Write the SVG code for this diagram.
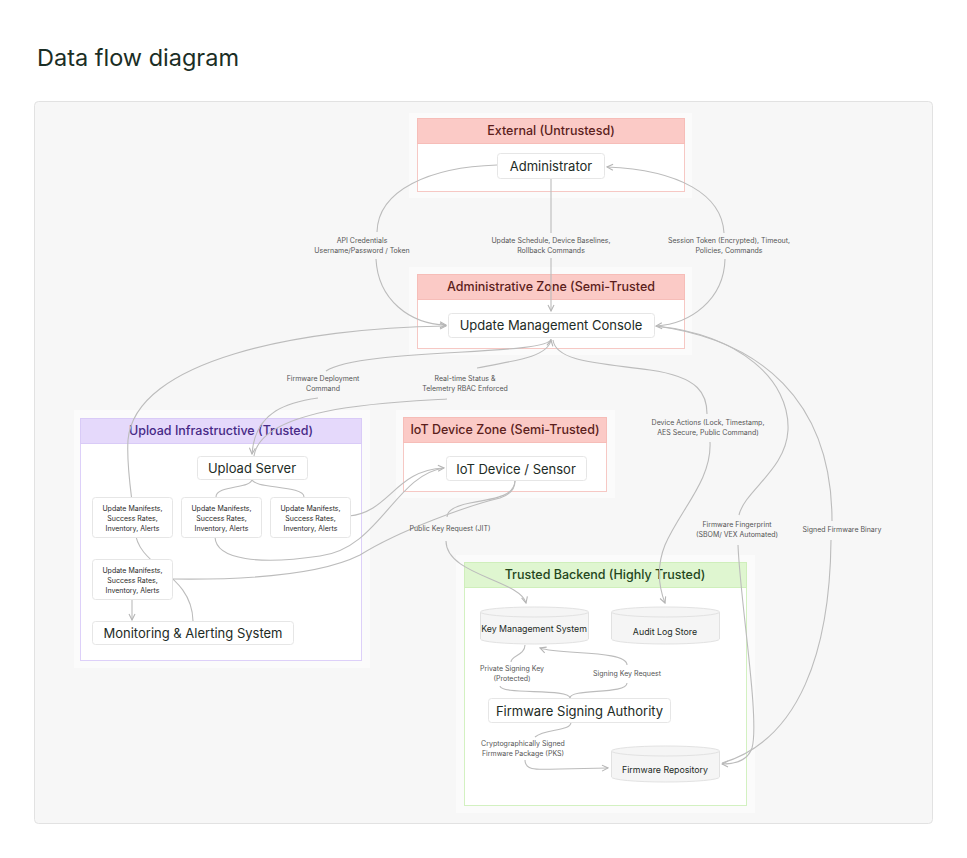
<svg xmlns="http://www.w3.org/2000/svg" width="967" height="858" viewBox="0 0 967 858">
<style>
.t{font-family:Inter,"Noto Sans",sans-serif}
.title{font-size:23.5px;fill:#1b2e25}
.pad{fill:#fbfbfb}
.zb{fill:#ffffff}
.pink .zh{fill:#fbcac6;stroke:#f6bdb8}
.pink .zb{stroke:#f6c8c4}
.pink .zt{fill:#5b1e1c}
.purple .zh{fill:#e5d9fb;stroke:#d9cbf7}
.purple .zb{stroke:#ddd0f9}
.purple .zt{fill:#472a86}
.green .zh{fill:#dff6d0;stroke:#cfefbb}
.green .zb{stroke:#d3f1c1}
.green .zt{fill:#24461c}
.zt{font-size:12.5px;font-weight:500;text-anchor:middle}
.n{fill:#ffffff;stroke:#e6e6e6;stroke-width:1}
.nt{font-size:13px;fill:#1d2b25;text-anchor:middle}
.st{font-size:7px;fill:#2a2a2a;text-anchor:middle}
.cy{fill:#f5f5f5;stroke:#e2e2e2;stroke-width:1}
.ct{font-size:8.8px;fill:#1d2b25;text-anchor:middle}
.lb{font-size:7px;fill:#555;text-anchor:middle}
.c path{fill:none;stroke:#bcbcbc;stroke-width:1.1}
</style>
<defs>
<marker id="ar" viewBox="0 0 8 8" refX="7" refY="4" markerWidth="8" markerHeight="8" markerUnits="userSpaceOnUse" orient="auto">
<path d="M1,1 L7,4 L1,7" fill="none" stroke="#b5b5b5" stroke-width="1.1"/>
</marker>
</defs>
<text class="t title" x="37" y="66">Data flow diagram</text>
<rect x="34.5" y="101.5" width="898" height="722" rx="4" fill="#f7f7f7" stroke="#e2e2e2"/>

<g id="zone-external" class="pink">
<rect class="pad" x="409" y="113" width="283" height="85"/>
<rect class="zb" x="417.5" y="143.5" width="267" height="48"/>
<rect class="zh" x="417.5" y="118.5" width="267" height="25"/>
<text class="t zt" x="551" y="135">External (Untrustesd)</text>
</g>
<g id="zone-admin" class="pink">
<rect class="pad" x="409" y="267" width="283" height="88"/>
<rect class="zb" x="417.5" y="299.5" width="267" height="49"/>
<rect class="zh" x="417.5" y="274.5" width="267" height="25"/>
<text class="t zt" x="551" y="291">Administrative Zone (Semi-Trusted</text>
</g>
<g id="zone-upload" class="purple">
<rect class="pad" x="74" y="410" width="296" height="258"/>
<rect class="zb" x="80.5" y="443.5" width="281" height="217"/>
<rect class="zh" x="80.5" y="418.5" width="281" height="25"/>
<text class="t zt" x="221" y="435">Upload Infrastructive (Trusted)</text>
</g>
<g id="zone-iot" class="pink">
<rect class="pad" x="396" y="410" width="219" height="88"/>
<rect class="zb" x="403.5" y="442.5" width="203" height="49"/>
<rect class="zh" x="403.5" y="417.5" width="203" height="25"/>
<text class="t zt" x="505" y="434">IoT Device Zone (Semi-Trusted)</text>
</g>
<g id="zone-trusted" class="green">
<rect class="pad" x="456" y="555" width="299" height="258"/>
<rect class="zb" x="464.5" y="587.5" width="282" height="218"/>
<rect class="zh" x="464.5" y="562.5" width="282" height="25"/>
<text class="t zt" x="605" y="579">Trusted Backend (Highly Trusted)</text>
</g>

<g id="connectors" class="c">
<path d="M497,165 C430,167 378,190 377,232"/>
<path d="M376,259 C378,300 410,324 446,325" marker-end="url(#ar)"/>
<path d="M551,178 V233"/>
<path d="M551,258 V311" marker-end="url(#ar)"/>
<path d="M724,233 C722,195 680,170 607,167" marker-end="url(#ar)"/>
<path d="M725,259 C724,300 690,324 656,326" marker-end="url(#ar)"/>
<path d="M551,339 C549,356 360,348 326,371"/>
<path d="M318,398 C290,402 255,410 252,454" marker-end="url(#ar)"/>
<path d="M254,456 C262,405 400,402 447,399"/>
<path d="M477,368 C520,360 548,356 551,340" marker-end="url(#ar)"/>
<path d="M553,340 C556,362 600,363 650,370 C700,377 707,395 707,414"/>
<path d="M710,442 C712,480 680,510 665,545 C655,570 660,590 665,603" marker-end="url(#ar)"/>
<path d="M656,326 C740,335 790,380 788,430 C786,470 745,490 739,515"/>
<path d="M738,545 C740,600 760,720 752,748 C748,760 735,764 722,764" marker-end="url(#ar)"/>
<path d="M656,326 C760,340 832,400 832,521"/>
<path d="M831,540 C830,650 800,740 722,763"/>
<path d="M193,621 C192,572 137,568 135,530 C133,500 126,470 128,440 C135,360 300,328 446,326" marker-end="url(#ar)"/>
<path d="M252,479 C252,489 216,485 216,497"/>
<path d="M252,479 C252,489 304,485 304,497"/>
<path d="M349,516 C390,512 395,470 444,468" marker-end="url(#ar)"/>
<path d="M215,537 C216,560 260,565 320,556 C380,548 395,475 444,468"/>
<path d="M172,579 C250,580 320,575 360,555 C400,530 470,505 500,498 C512,494 515,488 515,481"/>
<path d="M515,481 C514,495 500,498 470,503 C455,506 447,510 447,517"/>
<path d="M446,541 C446,575 520,580 526,603" marker-end="url(#ar)"/>
<path d="M132,599 V620" marker-end="url(#ar)"/>
<path d="M525,645 C525,655 511,656 511,662"/>
<path d="M500,686 C500,695 570,688 570,698"/>
<path d="M570,698 C570,688 627,695 627,683"/>
<path d="M627,665 C627,650 560,655 540,648" marker-end="url(#ar)"/>
<path d="M571,722 C571,732 545,728 535,737"/>
<path d="M525,760 C525,772 540,769 560,769 L608,768" marker-end="url(#ar)"/>
</g>

<g id="labels">
<text class="t lb" x="362" y="243">API Credentials</text>
<text class="t lb" x="362" y="253">Username/Password / Token</text>
<text class="t lb" x="551" y="243">Update Schedule, Device Baselines,</text>
<text class="t lb" x="551" y="253">Rollback Commands</text>
<text class="t lb" x="729" y="243">Session Token (Encrypted), Timeout,</text>
<text class="t lb" x="729" y="253">Policies, Commands</text>
<text class="t lb" x="323" y="381">Firmware Deployment</text>
<text class="t lb" x="323" y="391">Command</text>
<text class="t lb" x="465" y="381">Real-time Status &amp;</text>
<text class="t lb" x="465" y="391">Telemetry RBAC Enforced</text>
<text class="t lb" x="708" y="425">Device Actions (Lock, Timestamp,</text>
<text class="t lb" x="708" y="435">AES Secure, Public Command)</text>
<text class="t lb" x="450" y="531">Public Key Request (JIT)</text>
<text class="t lb" x="737" y="527">Firmware Fingerprint</text>
<text class="t lb" x="737" y="537">(SBOM/ VEX Automated)</text>
<text class="t lb" x="842" y="532">Signed Firmware Binary</text>
<text class="t lb" x="512" y="671">Private Signing Key</text>
<text class="t lb" x="512" y="681">(Protected)</text>
<text class="t lb" x="627" y="676">Signing Key Request</text>
<text class="t lb" x="523" y="746">Cryptographically Signed</text>
<text class="t lb" x="523" y="756">Firmware Package (PKS)</text>
</g>

<g id="node-administrator">
<rect class="n" x="497.5" y="153.5" width="107" height="25" rx="3"/>
<text class="t nt" x="551" y="171">Administrator</text>
</g>
<g id="node-umc">
<rect class="n" x="448.5" y="313.5" width="206" height="24" rx="3"/>
<text class="t nt" x="551" y="330">Update Management Console</text>
</g>
<g id="node-upload-server">
<rect class="n" x="197.5" y="456.5" width="110" height="23" rx="3"/>
<text class="t nt" x="252" y="472.5">Upload Server</text>
</g>
<g id="node-manifest-1">
<rect class="n" x="92.5" y="497.5" width="80" height="40" rx="3"/>
<text class="t st" x="132.5" y="511">Update Manifests,</text>
<text class="t st" x="132.5" y="521">Success Rates,</text>
<text class="t st" x="132.5" y="531">Inventory, Alerts</text>
</g>
<g id="node-manifest-2">
<rect class="n" x="181.5" y="497.5" width="80" height="40" rx="3"/>
<text class="t st" x="221.5" y="511">Update Manifests,</text>
<text class="t st" x="221.5" y="521">Success Rates,</text>
<text class="t st" x="221.5" y="531">Inventory, Alerts</text>
</g>
<g id="node-manifest-3">
<rect class="n" x="270.5" y="497.5" width="80" height="40" rx="3"/>
<text class="t st" x="310.5" y="511">Update Manifests,</text>
<text class="t st" x="310.5" y="521">Success Rates,</text>
<text class="t st" x="310.5" y="531">Inventory, Alerts</text>
</g>
<g id="node-manifest-4">
<rect class="n" x="92.5" y="559.5" width="80" height="40" rx="3"/>
<text class="t st" x="132.5" y="573">Update Manifests,</text>
<text class="t st" x="132.5" y="583">Success Rates,</text>
<text class="t st" x="132.5" y="593">Inventory, Alerts</text>
</g>
<g id="node-monitoring">
<rect class="n" x="92.5" y="621.5" width="201" height="23" rx="3"/>
<text class="t nt" x="193" y="638">Monitoring &amp; Alerting System</text>
</g>
<g id="node-iot-device">
<rect class="n" x="446.5" y="456.5" width="140" height="24" rx="3"/>
<text class="t nt" x="516" y="473.5">IoT Device / Sensor</text>
</g>
<g id="node-kms">
<path class="cy" d="M480.5,612 A54,5 0 0,1 588.5,612 V639 A54,5 0 0,1 480.5,639 Z"/>
<path class="cy" d="M480.5,612 A54,5 0 0,0 588.5,612" fill="none"/>
<text class="t ct" x="534" y="632">Key Management System</text>
</g>
<g id="node-audit">
<path class="cy" d="M611.5,612 A54,5 0 0,1 719.5,612 V639 A54,5 0 0,1 611.5,639 Z"/>
<path class="cy" d="M611.5,612 A54,5 0 0,0 719.5,612" fill="none"/>
<text class="t ct" x="665" y="635">Audit Log Store</text>
</g>
<g id="node-fsa">
<rect class="n" x="488.5" y="698.5" width="182" height="24" rx="3"/>
<text class="t nt" x="579.5" y="715.5">Firmware Signing Authority</text>
</g>
<g id="node-repo">
<path class="cy" d="M611.5,751 A54,5 0 0,1 719.5,751 V777 A54,5 0 0,1 611.5,777 Z"/>
<path class="cy" d="M611.5,751 A54,5 0 0,0 719.5,751" fill="none"/>
<text class="t ct" x="665" y="773">Firmware Repository</text>
</g>
</svg>
